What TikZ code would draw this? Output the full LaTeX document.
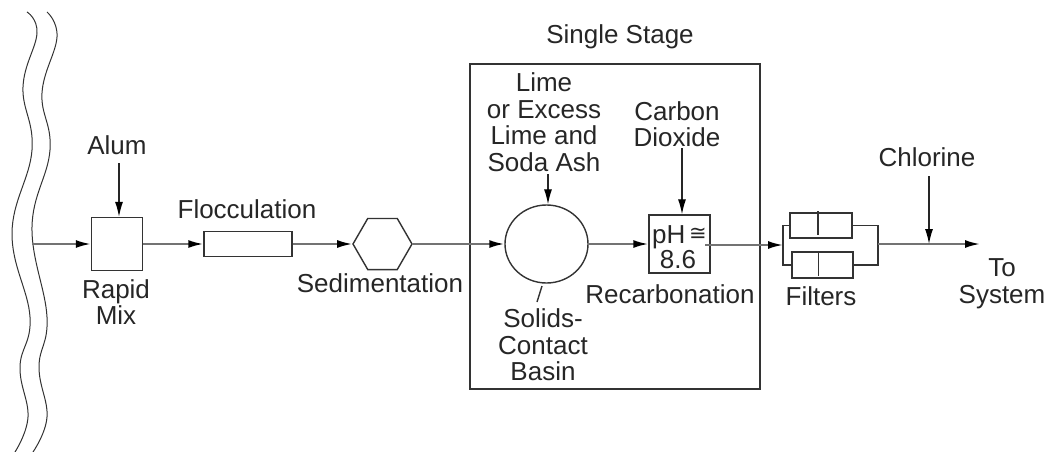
\documentclass[tikz,border=0pt]{standalone}
\usepackage{fontspec}
\setmainfont{Liberation Sans}
\newfontfamily\symfont{DejaVu Sans}
\usetikzlibrary{positioning,arrows.meta,shapes.geometric}
\tikzset{
  unit/.style={draw=black!80, line width=1.4pt, inner sep=0pt},
  lbl/.style={align=center, inner sep=0pt, text=black!85, font=\fontsize{26}{26.5}\selectfont},
  flow/.style={-{Latex[length=15pt,width=8pt,color=black]}, draw=black!55, line width=2pt},
  feed/.style={-{Latex[length=15pt,width=8pt,color=black]}, draw=black!85, line width=1.2pt},
  plain/.style={draw=black!80, line width=1.4pt}
}
\begin{document}
\begin{tikzpicture}[x=1pt,y=-1pt]
        \useasboundingbox (0,0) rectangle (1049,452);
        \draw[plain, line width=1pt] plot[smooth, tension=0.7] coordinates {(27,12) (37,33) (23,87) (32,150) (12,233) (30,317) (20,367) (28,417) (15,452)};
        \draw[plain, line width=1pt] plot[smooth, tension=0.7] coordinates {(47,12) (57,37) (42,93) (50,150) (32,227) (47,317) (39,367) (47,417) (33,452)};
        \coordinate (river) at (32,244);
        \node[unit, minimum width=51pt, minimum height=53pt] (mix) at (117,244) {};
        \node[unit, minimum width=88pt, minimum height=25pt] (floc) at (248,244) {};
        \node[unit, regular polygon, regular polygon sides=6, minimum size=59pt] (sed) at (382.5,244) {};
        \node[unit, ellipse, minimum width=83pt, minimum height=78pt] (basin) at (546.5,244) {};
        \node[unit, minimum width=290pt, minimum height=325pt] (stage) at (615,226.5) {};
        \node[unit, minimum width=61pt, minimum height=58pt] (ph) at (679.5,244) {};
        \node[lbl, anchor=base west] (phlbl) at (652,243) {pH};
        \node[lbl, anchor=base west] (phsym) at (689,240) {\symfont\fontsize{21}{21}\selectfont ≅};
        \node[lbl] (phval) at (678,260) {8.6};
        \node[unit, minimum width=62pt, minimum height=25pt] (filtera) at (821,225.5) {};
        \node[unit, minimum width=61pt, minimum height=26pt] (filterb) at (822.5,265) {};
        \draw[plain] (818,211) -- (818,235);
        \draw[plain] (818.5,252) -- (818.5,276);
        \coordinate (phout) at (705,245);
        \coordinate (inleft) at (783,245);
        \coordinate (outright) at (878,244);
        \coordinate (system) at (980,244);
        \coordinate (dose) at (929,244);
        \draw[plain] (filtera.west) -- (inleft |- filtera.west) -- (inleft |- filterb.west) -- (filterb.west);
        \draw[plain] (filtera.east) -- (outright |- filtera.east) -- (outright |- filterb.east) -- (filterb.east);
        \node[lbl] (alum) at (117,145) {Alum};
        \node[lbl] (floclbl) at (247,209) {Flocculation};
        \node[lbl] (mixlbl) at (116,302) {Rapid\\Mix};
        \node[lbl] (sedlbl) at (380,283) {Sedimentation};
        \node[lbl] (stagelbl) at (620,37) {Single Stage};
        \node[lbl] (lime) at (544,122) {Lime\\or Excess\\Lime and\\Soda Ash};
        \node[lbl] (co2) at (677,124) {Carbon\\Dioxide};
        \node[lbl] (recarb) at (670,294) {Recarbonation};
        \node[lbl] (solids) at (543,345) {Solids-\\Contact\\Basin};
        \node[lbl] (filt) at (821,296) {Filters};
        \node[lbl] (chlor) at (927,157) {Chlorine};
        \node[lbl] (tosys) at (1002,284) {To\\System};
        \coordinate (alumfeed) at (119,163);
        \coordinate (limefeed) at (548,174);
        \coordinate (cofeed) at (682,148);
        \coordinate (chlorfeed) at (929,176);
        \foreach \a/\b in {river/mix,mix/floc,floc/sed,sed/basin,basin/ph,phout/inleft}{\draw[flow] (\a) -- (\b);}
        \draw[flow] (outright) -- (system);
        \draw[feed] (alumfeed) -- (alumfeed |- mix.north);
        \draw[feed] (limefeed) -- (limefeed |- basin.north);
        \draw[feed] (cofeed) -- (cofeed |- ph.north);
        \draw[feed] (chlorfeed) -- (dose);
        \draw[plain] (542,286) -- (537,302);
\end{tikzpicture}
\end{document}
